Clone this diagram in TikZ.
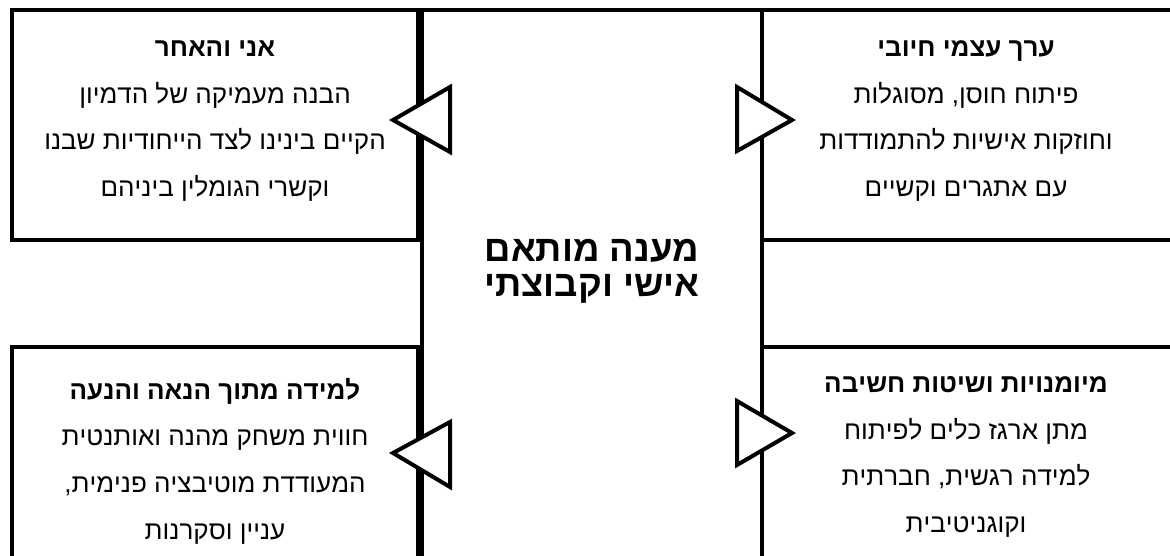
\documentclass[tikz,border=0pt]{standalone}
\usepackage{fontspec}
\setmainfont{Liberation Sans}
\TeXXeTstate=1
\newcommand{\rtl}[1]{\beginR #1\endR}
\begin{document}
\begin{tikzpicture}[x=1pt,y=-1pt,
  frame/.style={line width=4pt},
  tri/.style={line width=4pt, fill=white, line join=miter},
  boxtext/.style={align=center, inner sep=0pt, font=\fontsize{26}{46.7}\selectfont},
  hubtext/.style={align=center, inner sep=0pt, font=\fontsize{36.5}{35}\selectfont\bfseries}]
\useasboundingbox (0,0) rectangle (1170,556);
\clip (0,0) rectangle (1170,556);
% column
\draw[frame] (422,10) -- (422,600);
\draw[frame] (762,10) -- (762,600);
% top line
\draw[frame] (10,10) -- (1180,10);
% boxes
\draw[frame] (12,10) rectangle (418,240);
\draw[frame] (762,240) -- (1180,240);
\draw[frame] (418,600) -- (418,347) -- (12,347) -- (12,600);
\draw[frame] (762,347) -- (1180,347);
% triangles
\draw[tri] (450,87) -- (393,120) -- (450,152) -- cycle;
\draw[tri] (450,422) -- (393,453) -- (450,487) -- cycle;
\draw[tri] (737,87) -- (792,120) -- (737,151) -- cycle;
\draw[tri] (737,401) -- (792,433) -- (737,465) -- cycle;
% texts
\node[boxtext] (tl) at (215,121) {\textbf{\rtl{אני והאחר}}\\\rtl{הבנה מעמיקה של הדמיון}\\\rtl{הקיים בינינו לצד הייחודיות שבנו}\\\rtl{וקשרי הגומלין ביניהם}};
\node[boxtext] (tr) at (966,121) {\textbf{\rtl{ערך עצמי חיובי}}\\\rtl{פיתוח חוסן, מסוגלות}\\\rtl{וחוזקות אישיות להתמודדות}\\\rtl{עם אתגרים וקשיים}};
\node[boxtext] (bl) at (215,461) {\textbf{\rtl{למידה מתוך הנאה והנעה}}\\\rtl{חווית משחק מהנה ואותנטית}\\\rtl{המעודדת מוטיבציה פנימית,}\\\rtl{עניין וסקרנות}};
\node[boxtext] (br) at (966,457) {\textbf{\rtl{מיומנויות ושיטות חשיבה}}\\\rtl{מתן ארגז כלים לפיתוח}\\\rtl{למידה רגשית, חברתית}\\\rtl{וקוגניטיבית}};
\node[hubtext] (hub) at (592,271) {\rtl{מענה מותאם}\\\rtl{אישי וקבוצתי}};
\end{tikzpicture}
\end{document}
